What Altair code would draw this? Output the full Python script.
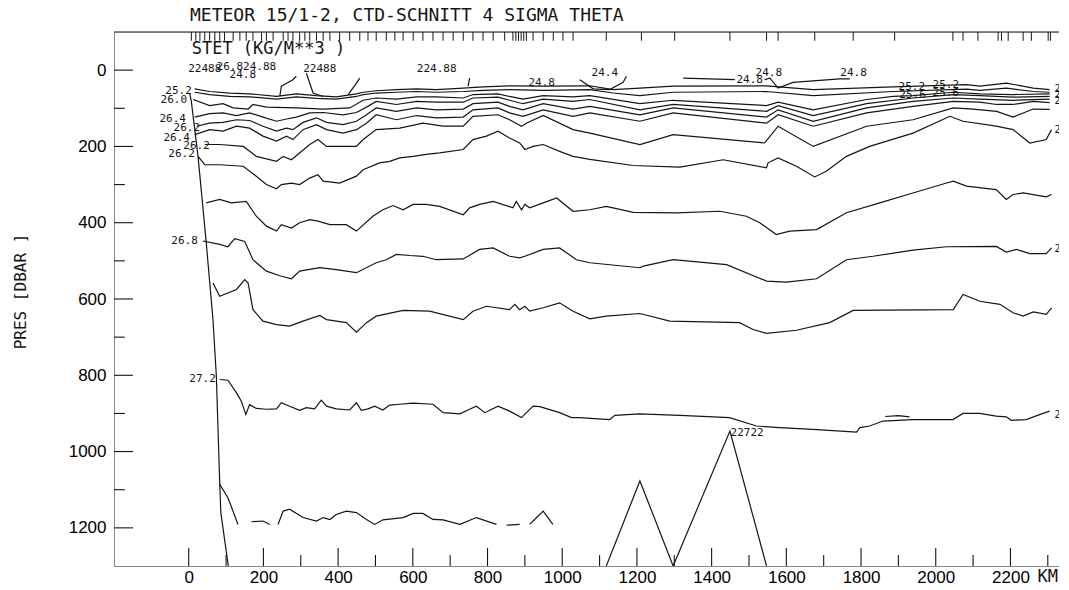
import altair as alt
import pandas as pd

FONT = "DejaVu Sans Mono"
INK = "#151515"
X_DOMAIN = [-200, 2330]
Y_DOMAIN = [-100, 1300]

title_text = "METEOR 15/1-2, CTD-SCHNITT 4 SIGMA THETA"
subtitle_text = "STET (KG/M**3 )"
y_title = "PRES [DBAR   ]"

x_labels = [0, 200, 400, 600, 800, 1000, 1200, 1400, 1600, 1800, 2000, 2200]
x_minor = [100, 300, 500, 700, 900, 1100, 1300, 1500, 1700, 1900, 2100, 2300]
y_labels = [0, 200, 400, 600, 800, 1000, 1200]
y_minor = [100, 300, 500, 700, 900, 1100]
stations = [7, 19, 30, 43, 56, 70, 83, 96, 119, 137, 154, 172, 195, 208, 226, 253, 266, 279,
            297, 311, 324, 342, 360, 378, 404, 431, 458, 480, 502, 529, 552, 574, 601, 627,
            654, 681, 708, 735, 761, 788, 815, 846, 868, 876, 883, 890, 897, 904, 922, 949,
            976, 1002, 1029, 1118, 1212, 1301, 1449, 1547, 1578, 1676, 1779, 1890, 2046,
            2073, 2113, 2167, 2176, 2194, 2234, 2256, 2301, 2307]

# ---- contour polylines (km, dbar) ----
boundary_km = [3, 7, 25, 47, 65, 74, 83, 86, 106]
boundary_dbar = [62, 82, 226, 453, 654, 802, 1082, 1160, 1300]

topo_km = [1118, 1208, 1297, 1449, 1547]
topo_dbar = [1300, 1077, 1300, 946, 1300]

s252_km = [16, 56, 110, 163, 235, 288, 342, 395, 449, 467, 502, 556, 610, 663, 735, 788, 859, 949, 1074, 1136,
           1208, 1297, 1547, 1672, 1886, 2082, 2118, 2189, 2261, 2305]
s252_dbar = [49, 56, 60, 62, 69, 62, 67, 70, 62, 58, 54, 51, 49, 51, 47, 44, 41, 42, 41, 51,
             47, 42, 41, 51, 44, 38, 42, 34, 47, 51]

s256_km = [16, 56, 110, 163, 235, 288, 342, 395, 449, 467, 502, 556, 610, 663, 735, 788, 859, 949, 1074, 1136,
           1208, 1297, 1547, 1672, 1886, 2082, 2118, 2189, 2261, 2305]
s256_dbar = [58, 64, 69, 70, 76, 70, 74, 76, 69, 64, 60, 58, 56, 58, 56, 53, 51, 53, 51, 60,
             67, 58, 56, 67, 56, 50, 53, 47, 56, 58]

s260_km = [12, 56, 92, 119, 159, 172, 208, 288, 360, 431, 467, 502, 556, 610, 663, 735, 761, 828, 859, 895,
           949, 1029, 1074, 1208, 1297, 1547, 1578, 1672, 1815, 1886, 1939, 2047, 2118, 2207, 2305]
s260_dbar = [77, 93, 88, 99, 102, 90, 97, 99, 102, 99, 79, 73, 76, 70, 70, 73, 64, 62, 69, 76,
             67, 70, 67, 88, 79, 93, 84, 104, 77, 69, 67, 58, 62, 64, 62]

s264a_km = [16, 56, 92, 128, 163, 199, 235, 262, 288, 324, 360, 413, 449, 476, 502, 556, 610, 663, 735, 761,
            828, 859, 895, 949, 1029, 1074, 1208, 1297, 1547, 1578, 1672, 1815, 1939, 2047, 2118, 2207, 2305]
s264a_dbar = [123, 114, 112, 119, 112, 123, 134, 128, 123, 112, 111, 117, 111, 97, 82, 90, 82, 84, 84, 73,
              71, 79, 88, 76, 82, 77, 104, 90, 108, 93, 119, 88, 73, 64, 67, 71, 69]

s262a_km = [21, 56, 92, 128, 163, 199, 235, 262, 279, 306, 342, 369, 413, 449, 476, 502, 556, 610, 663, 735,
            761, 828, 859, 895, 949, 1029, 1074, 1208, 1297, 1547, 1578, 1672, 1815, 1939, 2047, 2118, 2207, 2305]
s262a_dbar = [147, 139, 137, 130, 132, 147, 160, 152, 156, 137, 125, 137, 143, 134, 117, 99, 108, 99, 104, 102,
              88, 84, 95, 104, 88, 102, 95, 117, 99, 123, 104, 134, 99, 82, 73, 76, 79, 76]

s264b_km = [16, 56, 92, 128, 163, 199, 235, 262, 279, 306, 342, 369, 413, 449, 476, 502, 556, 610, 663, 735,
            761, 828, 859, 895, 949, 1029, 1074, 1208, 1297, 1547, 1578, 1672, 1815, 1939, 2047, 2118, 2163, 2207,
            2261, 2305]
s264b_dbar = [169, 156, 160, 147, 152, 173, 186, 173, 182, 156, 143, 156, 165, 156, 139, 117, 130, 119, 125, 123,
              104, 99, 112, 121, 104, 121, 112, 134, 112, 139, 117, 147, 112, 95, 82, 84, 90, 90, 82, 85]

s262b_km = [43, 83, 146, 181, 235, 253, 275, 324, 346, 369, 449, 467, 502, 565, 627, 681, 735, 761, 828, 859,
            891, 904, 949, 1029, 1074, 1208, 1297, 1542, 1578, 1672, 1815, 1939, 2047, 2100, 2163, 2207, 2261, 2305]
s262b_dbar = [195, 195, 200, 226, 239, 226, 235, 195, 182, 200, 200, 182, 156, 152, 139, 147, 147, 121, 117, 130,
              147, 139, 119, 156, 165, 195, 169, 191, 147, 200, 147, 130, 99, 102, 108, 123, 102, 103]

s262c_km = [25, 43, 83, 146, 181, 208, 235, 248, 275, 297, 324, 346, 360, 404, 449, 467, 511, 538, 565, 601,
            636, 672, 735, 761, 797, 828, 859, 886, 900, 922, 949, 993, 1029, 1074, 1190, 1315, 1431, 1547, 1551,
            1578, 1627, 1676, 1707, 1761, 1823, 1939, 2038, 2073, 2162, 2207, 2252, 2296, 2310]
s262c_dbar = [226, 248, 248, 252, 278, 300, 311, 300, 296, 300, 283, 274, 291, 296, 278, 261, 243, 239, 230, 226,
              221, 217, 208, 182, 173, 160, 178, 191, 208, 200, 195, 213, 226, 234, 250, 254, 235, 256, 243,
              230, 252, 280, 265, 226, 200, 165, 121, 134, 147, 156, 191, 182, 156]

s265_km = [47, 83, 114, 154, 181, 208, 235, 248, 275, 297, 324, 346, 378, 422, 449, 493, 520, 547, 574, 601,
           636, 672, 735, 752, 779, 815, 868, 877, 891, 900, 913, 949, 985, 1029, 1074, 1118, 1190, 1306, 1422, 1493,
           1529, 1573, 1609, 1681, 1761, 1850, 1939, 2029, 2047, 2082, 2162, 2189, 2207, 2234, 2296, 2310]
s265_dbar = [348, 339, 348, 344, 383, 409, 422, 405, 414, 400, 392, 396, 405, 405, 422, 383, 366, 355, 366, 352,
             352, 357, 379, 361, 352, 344, 361, 344, 366, 352, 361, 348, 335, 370, 366, 357, 373, 374, 370, 383,
             400, 431, 422, 418, 374, 348, 322, 296, 291, 304, 313, 339, 326, 322, 332, 326]

s268_km = [38, 83, 105, 123, 150, 172, 208, 244, 275, 297, 351, 395, 449, 502, 529, 556, 592, 627, 663, 735,
           779, 815, 859, 886, 900, 949, 993, 1038, 1074, 1208, 1217, 1297, 1440, 1547, 1600, 1681, 1761, 1832, 1939,
           2029, 2162, 2189, 2216, 2252, 2296, 2310]
s268_dbar = [448, 457, 463, 442, 449, 497, 527, 539, 547, 527, 518, 523, 531, 505, 497, 483, 486, 488, 497, 495,
             470, 466, 488, 492, 488, 470, 466, 497, 505, 518, 514, 497, 510, 553, 556, 547, 497, 488, 472,
             463, 462, 477, 470, 481, 481, 466]

s270_km = [65, 83, 128, 150, 159, 172, 199, 235, 270, 306, 351, 369, 422, 449, 476, 502, 574, 645, 735, 761,
           797, 859, 873, 886, 900, 913, 949, 993, 1029, 1074, 1118, 1208, 1288, 1475, 1511, 1547, 1627, 1716, 1779,
           2047, 2073, 2118, 2172, 2207, 2234, 2261, 2296, 2310]
s270_dbar = [558, 593, 575, 549, 558, 628, 658, 667, 671, 658, 643, 654, 662, 687, 662, 645, 630, 632, 654, 632,
             619, 628, 614, 628, 619, 632, 623, 610, 632, 652, 645, 638, 658, 662, 680, 690, 682, 662, 630,
             628, 588, 606, 614, 636, 645, 634, 640, 623]

s272_km = [83, 105, 128, 141, 153, 163, 181, 208, 235, 248, 270, 297, 315, 337, 355, 369, 395, 431, 449, 462,
           480, 498, 520, 538, 565, 600, 654, 681, 726, 752, 770, 793, 828, 859, 891, 922, 940, 993, 1025, 1047,
           1127, 1141, 1207, 1315, 1448, 1520, 1582, 1671, 1788, 1797, 1823, 1859, 1939, 2046, 2073, 2117, 2162,
           2189, 2202, 2242, 2278, 2305]
s272_dbar = [811, 813, 846, 868, 903, 877, 887, 889, 888, 872, 881, 892, 885, 888, 865, 881, 888, 891, 872, 892,
             888, 881, 891, 878, 876, 873, 876, 898, 901, 889, 881, 898, 881, 894, 911, 881, 882, 898, 911, 911,
             916, 905, 901, 905, 911, 933, 937, 942, 949, 937, 933, 920, 916, 916, 900, 900, 907, 909, 918,
             916, 903, 894]
s272b_km = [1865, 1900, 1930]
s272b_dbar = [908, 906, 909]

deep1_km = [83, 105, 132]
deep1_dbar = [1086, 1121, 1191]
deep2_km = [168, 199, 217]
deep2_dbar = [1184, 1182, 1191]
deep3_km = [239, 253, 270, 306, 342, 360, 378, 395, 422, 449, 476, 498, 520, 574, 601, 627, 654, 681, 726, 770, 824]
deep3_dbar = [1191, 1156, 1151, 1173, 1182, 1173, 1178, 1165, 1156, 1160, 1178, 1191, 1179, 1173, 1162, 1162,
              1178, 1179, 1191, 1173, 1191]
deep4_km = [851, 886]
deep4_dbar = [1193, 1191]
deep5_km = [913, 926, 949, 975]
deep5_dbar = [1191, 1178, 1156, 1191]

p1_km = [1324, 1462]
p1_dbar = [21, 25]
p2_km = [1542, 1556, 1578, 1618, 1743, 1770]
p2_dbar = [25, 21, 47, 32, 23, 23]
p3_km = [244, 248, 279, 288]
p3_dbar = [69, 42, 25, 16]
p4_km = [315, 333, 360]
p4_dbar = [8, 60, 69]
p5_km = [427, 449, 458]
p5_dbar = [64, 34, 21]
p6_km = [748, 752]
p6_dbar = [42, 21]
p7_km = [1047, 1083, 1127, 1163, 1172]
p7_dbar = [25, 49, 51, 32, 16]

# contour labels
lab_text = ["25.2", "26.0", "26.4", "26.2", "26.4", "26.2", "26.2", "26.8", "27.2",
            "22488", "26.8", "24.8", "24.88", "22488", "224.88", "24.8", "24.4", "24.8", "24.8", "24.8",
            "25.2", "25.6", "25.2", "25.6", "22722"]
lab_km = [-27, -40, -43, -5, -32, 21, -19, -11, 37,
          43, 110, 145, 190, 351, 664, 945, 1114, 1502, 1553, 1780,
          1936, 1938, 2027, 2027, 1495]
lab_dbar = [54, 77, 127, 151, 179, 198, 221, 449, 811,
            -4, -7, 12, -7, -4, -4, 33, 7, 25, 7, 7,
            43, 64, 40, 59, 950]
right_text = ["25", "25", "26", "26", "26", "27"]
right_dbar = [49, 64, 80, 158, 470, 903]
right_km = [2318, 2318, 2318, 2318, 2318, 2318]

segments = [
    ("boundary", boundary_km, boundary_dbar), ("topo", topo_km, topo_dbar),
    ("s252", s252_km, s252_dbar), ("s256", s256_km, s256_dbar), ("s260", s260_km, s260_dbar),
    ("s264a", s264a_km, s264a_dbar), ("s262a", s262a_km, s262a_dbar), ("s264b", s264b_km, s264b_dbar),
    ("s262b", s262b_km, s262b_dbar), ("s262c", s262c_km, s262c_dbar), ("s265", s265_km, s265_dbar),
    ("s268", s268_km, s268_dbar), ("s270", s270_km, s270_dbar), ("s272", s272_km, s272_dbar),
    ("s272b", s272b_km, s272b_dbar),
    ("deep1", deep1_km, deep1_dbar), ("deep2", deep2_km, deep2_dbar), ("deep3", deep3_km, deep3_dbar),
    ("deep4", deep4_km, deep4_dbar), ("deep5", deep5_km, deep5_dbar),
    ("p1", p1_km, p1_dbar), ("p2", p2_km, p2_dbar), ("p3", p3_km, p3_dbar), ("p4", p4_km, p4_dbar),
    ("p5", p5_km, p5_dbar), ("p6", p6_km, p6_dbar), ("p7", p7_km, p7_dbar),
]

line_df = pd.concat([
    pd.DataFrame({"km": k, "dbar": d, "seg": name, "i": list(range(len(k)))})
    for name, k, d in segments
], ignore_index=True)

XS = alt.Scale(domain=X_DOMAIN, nice=False, zero=False)
YS = alt.Scale(domain=Y_DOMAIN, nice=False, zero=False, reverse=True)
XA = alt.Axis(values=x_labels, title=None, labelPadding=3, labelFontSize=17, format="d",
              grid=False, ticks=False)
YA = alt.Axis(values=y_labels, title=y_title, labelPadding=8, labelFontSize=17, format="d",
              grid=False, ticks=False,
              titleAngle=270, titleX=-94, titleY=259, titleAlign="center", titleBaseline="middle",
              titleFont=FONT, titleFontSize=16, titleFontWeight="normal", titleColor=INK)


def X(f):
    return alt.X(f, type="quantitative", scale=XS, axis=XA)


def Y(f):
    return alt.Y(f, type="quantitative", scale=YS, axis=YA)


lines = alt.Chart(line_df).mark_line(color=INK, strokeWidth=1.2, clip=True).encode(
    x=X("km"), y=Y("dbar"), detail="seg:N", order="i:Q")

# tick marks (inward)
XMAJ, XMIN, YMAJ, YMIN, STN = 47, 29, 51, 29, 23
xt = pd.DataFrame({"km": x_labels + x_minor,
                   "y0": [Y_DOMAIN[1]] * (len(x_labels) + len(x_minor)),
                   "y1": [Y_DOMAIN[1] - XMAJ] * len(x_labels) + [Y_DOMAIN[1] - XMIN] * len(x_minor)})
x_ticks = alt.Chart(xt).mark_rule(color=INK, strokeWidth=1.1).encode(x=X("km"), y=Y("y0"), y2="y1")

yt = pd.DataFrame({"dbar": y_labels + y_minor,
                   "x0": [X_DOMAIN[0]] * (len(y_labels) + len(y_minor)),
                   "x1": [X_DOMAIN[0] + YMAJ] * len(y_labels) + [X_DOMAIN[0] + YMIN] * len(y_minor)})
y_ticks = alt.Chart(yt).mark_rule(color=INK, strokeWidth=1.1).encode(y=Y("dbar"), x=X("x0"), x2="x1")

st = pd.DataFrame({"km": stations, "y0": [Y_DOMAIN[0]] * len(stations),
                   "y1": [Y_DOMAIN[0] + STN] * len(stations)})
st_ticks = alt.Chart(st).mark_rule(color=INK, strokeWidth=1.0).encode(x=X("km"), y=Y("y0"), y2="y1")

top = pd.DataFrame({"x0": [X_DOMAIN[0]], "x1": [X_DOMAIN[1]], "y": [Y_DOMAIN[0]]})
top_rule = alt.Chart(top).mark_rule(color=INK, strokeWidth=1.2).encode(x=X("x0"), x2="x1", y=Y("y"))

lab_df = pd.DataFrame({"t": lab_text, "km": lab_km, "dbar": lab_dbar})
labels = alt.Chart(lab_df).mark_text(font=FONT, fontSize=11, color=INK, align="center",
                                     baseline="middle").encode(x=X("km"), y=Y("dbar"), text="t:N")

rlab_df = pd.DataFrame({"t": right_text, "km": right_km, "dbar": right_dbar})
rlabels = alt.Chart(rlab_df).mark_text(font=FONT, fontSize=10, color=INK, align="left",
                                       baseline="middle").encode(x=X("km"), y=Y("dbar"), text="t:N")

sub_df = pd.DataFrame({"t": [subtitle_text], "km": [8], "dbar": [-56]})
subtitle = alt.Chart(sub_df).mark_text(font=FONT, fontSize=17, color=INK, align="left",
                                       baseline="middle").encode(x=X("km"), y=Y("dbar"), text="t:N")

km_df = pd.DataFrame({"t": ["KM"], "km": [2300], "dbar": [Y_DOMAIN[1]]})
km_label = alt.Chart(km_df).mark_text(font=FONT, fontSize=17, color=INK, align="center",
                                      baseline="top", dy=3).encode(x=X("km"), y=Y("dbar"), text="t:N")

chart = alt.layer(top_rule, st_ticks, x_ticks, y_ticks, lines, labels, rlabels, subtitle, km_label).properties(
    width=945, height=534,
    padding={"left": 106, "top": 24, "right": 0, "bottom": 24},
    autosize=alt.AutoSizeParams(type="none"),
    title=alt.TitleParams(title_text, anchor="start", frame="group", dx=76, offset=6,
                          font=FONT, fontSize=18, fontWeight="normal", color=INK),
).configure_view(stroke=None).configure_axis(
    grid=False, ticks=False, domainColor=INK, domainWidth=1.2,
    labelFont=FONT, labelColor=INK,
).configure(background="white")

chart.save("out.html", embed_options={"renderer": "svg", "actions": False})
